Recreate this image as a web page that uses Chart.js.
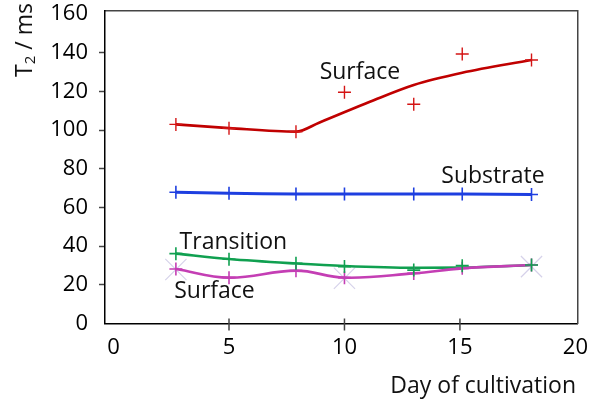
<!DOCTYPE html>
<html>
<head>
<meta charset="utf-8">
<script src="https://cdn.jsdelivr.net/npm/chart.js@4.4.0/dist/chart.umd.min.js"></script>
<style>
  html, body { margin: 0; padding: 0; background: #fff; }
  #wrap { width: 592px; height: 401px; }
</style>
</head>
<body>
<div id="wrap"><canvas id="myChart"></canvas></div>
<script>
// values
var days = [2.7, 5, 7.9, 10, 13, 15.1, 18.1];
var surfaceTop = [102.9, 100.9, 99.1, 119.5, 113.3, 139.3, 136.2];
var surfaceTopFitDays = [2.7, 5, 7.9, 8.9, 11.1, 13, 15.1, 18.1];
var surfaceTopFit = [102.9, 101, 99.2, 103.8, 114.6, 123.3, 129.6, 136.2];
var substrate = [67.8, 67.3, 66.9, 66.9, 66.9, 66.9, 66.7];
var transition = [36.1, 33.2, 31.1, 29.4, 27.6, 29.9, 30.2];
var transitionFit = [36.1, 33.3, 31.0, 29.7, 28.8, 28.9, 30.2];
var surfaceLow = [28.2, 23.7, 27.3, 23.7, 25.9, 28.5, 30.2];
var paleDays = [2.7, 10, 18.1];
var paleVals = [27.9, 23.4, 29.4];

var xTicks = [0, 5, 10, 15, 20];
var yTicks = [0, 20, 40, 60, 80, 100, 120, 140, 160];

var labels = [
  {text: 'Surface', x: 10.67, y: 129.5},
  {text: 'Substrate', x: 16.43, y: 76.2},
  {text: 'Transition', x: 5.19, y: 42.1},
  {text: 'Surface', x: 4.37, y: 16.5}
];

function pts(xs, ys) {
  return xs.map(function(x, i) { return {x: x, y: ys[i]}; });
}

var FONT = "'Open Sans', sans-serif";
var X_MIN = -0.37, X_MAX = 20.1, Y_MIN = 0, Y_MAX = 161.5;

var extras = {
  id: 'extras',
  afterDraw: function(chart) {
    var c = chart.ctx;
    var sx = chart.scales.x, sy = chart.scales.y;
    var B = sy.bottom;
    c.save();
    // x tick marks cross the axis
    c.strokeStyle = '#444';
    c.lineWidth = 1.5;
    c.beginPath();
    [5, 10, 15].forEach(function(v) {
      var x = sx.getPixelForValue(v);
      c.moveTo(x, B - 5);
      c.lineTo(x, B + 7);
    });
    c.stroke();
    // series labels
    c.fillStyle = '#111';
    c.font = '23px ' + FONT;
    c.textAlign = 'center';
    c.textBaseline = 'middle';
    labels.forEach(function(l) {
      c.fillText(l.text, sx.getPixelForValue(l.x), sy.getPixelForValue(l.y));
    });
    // x title
    c.textAlign = 'right';
    c.fillText('Day of cultivation', 576, 386);
    // y title
    c.translate(25, 40);
    c.rotate(-Math.PI / 2);
    c.textAlign = 'left';
    c.font = '23px ' + FONT;
    var wT = c.measureText('T').width;
    var wRest = c.measureText(' / ms').width;
    c.font = '15px ' + FONT;
    var w2 = c.measureText('2').width;
    var start = -(wT + w2 + wRest) / 2;
    c.font = '23px ' + FONT;
    c.fillText('T', start, 0);
    c.font = '15px ' + FONT;
    c.fillText('2', start + wT, 6);
    c.font = '23px ' + FONT;
    c.fillText(' / ms', start + wT + w2, 0);
    c.restore();
  }
};

var ctx = document.getElementById('myChart').getContext('2d');
var myChart = new Chart(ctx, {
  type: 'line',
  data: {
    datasets: [
      {data: pts(days, surfaceTop), showLine: false, pointStyle: 'cross', pointRadius: 6.5,
       pointBorderColor: '#d41414', pointBorderWidth: 1.4, order: 1},
      {data: pts(days, substrate), borderColor: '#1e3fe0', borderWidth: 3, tension: 0.3,
       pointStyle: 'cross', pointRadius: 6.5, pointBorderColor: '#1e3fe0', pointBorderWidth: 1.6, order: 1},
      {data: pts(days, transition), showLine: false, pointStyle: 'cross', pointRadius: 6.5,
       pointBorderColor: '#10a050', pointBorderWidth: 1.6, order: 1},
      {data: pts(days, surfaceLow), borderColor: '#c43eb4', borderWidth: 2.6, tension: 0.4,
       pointStyle: 'cross', pointRadius: 6.5, pointBorderColor: '#c43eb4', pointBorderWidth: 1.6, order: 2},
      {data: pts(surfaceTopFitDays, surfaceTopFit), borderColor: '#c00000', borderWidth: 2.7,
       cubicInterpolationMode: 'monotone', pointRadius: 0, order: 3},
      {data: pts(days, transitionFit), borderColor: '#10a050', borderWidth: 2.6,
       cubicInterpolationMode: 'monotone', pointRadius: 0, order: 3},
      {data: pts(paleDays, paleVals), showLine: false, pointStyle: 'crossRot', pointRadius: 15,
       pointBorderColor: '#d6d2ea', pointBorderWidth: 1.2, order: 4}
    ]
  },
  options: {
    responsive: true,
    maintainAspectRatio: false,
    animation: false,
    events: [],
    layout: {autoPadding: false, padding: {top: 11, right: 14.3, left: 0, bottom: 0}},
    plugins: {legend: {display: false}, tooltip: {enabled: false}},
    scales: {
      x: {
        type: 'linear', min: X_MIN, max: X_MAX,
        afterBuildTicks: function(s) { s.ticks = xTicks.map(function(v) { return {value: v}; }); },
        afterFit: function(s) { s.height = 77.5; s.paddingLeft = 0; s.paddingRight = 0; },
        grid: {display: false, drawTicks: false},
        border: {display: true, color: '#000', width: 1.5},
        ticks: {color: '#000', padding: 11.5, maxRotation: 0, font: {family: FONT, size: 22}}
      },
      xTop: {
        type: 'linear', position: 'top', min: X_MIN, max: X_MAX,
        afterFit: function(s) { s.height = 0; s.paddingLeft = 0; s.paddingRight = 0; },
        grid: {display: false, drawTicks: false},
        border: {display: true, color: '#444', width: 1.5},
        ticks: {display: false}
      },
      y: {
        min: Y_MIN, max: Y_MAX,
        afterBuildTicks: function(s) { s.ticks = yTicks.map(function(v) { return {value: v}; }); },
        afterFit: function(s) { s.width = 105; s.paddingTop = 0; s.paddingBottom = 0; },
        grid: {
          display: true, drawOnChartArea: false, drawTicks: true, tickLength: 6, tickWidth: 1.5,
          tickColor: function(c) { return (c.tick && (c.tick.value === 0 || c.tick.value === 160)) ? 'rgba(0,0,0,0)' : '#444'; }
        },
        border: {display: true, color: '#000', width: 1.5},
        ticks: {color: '#000', padding: 11, font: {family: FONT, size: 22}}
      },
      yRight: {
        position: 'right', min: Y_MIN, max: Y_MAX,
        afterFit: function(s) { s.width = 0; s.paddingTop = 0; s.paddingBottom = 0; },
        grid: {display: false, drawTicks: false},
        border: {display: true, color: '#444', width: 1.5},
        ticks: {display: false}
      }
    }
  },
  plugins: [extras]
});
</script>
</body>
</html>
